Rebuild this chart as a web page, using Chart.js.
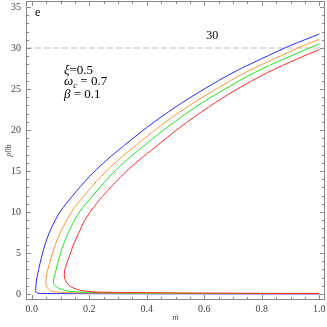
<!DOCTYPE html>
<html><head><meta charset="utf-8">
<script src="https://cdn.jsdelivr.net/npm/chart.js@4/dist/chart.umd.min.js"></script>
<style>html,body{margin:0;padding:0;background:#fff;overflow:hidden}#wrap{width:327px;height:327px}</style>
</head><body><div id="wrap"><canvas id="c" width="327" height="327"></canvas></div>
<script>
// ---- data ----
const blueX = [1.0,0.9,0.8,0.7,0.6,0.5,0.4,0.3,0.25,0.2,0.14,0.1,0.08,0.06,0.046,0.034,0.024,0.018,0.015,0.014,0.014,0.02,0.04,0.1,0.3,0.6,1.0];
const blueY = [31.7,30.3,28.7,27.0,25.0,22.8,20.3,17.5,16.0,14.3,11.9,10.1,8.9,7.4,6.0,4.5,3.0,2.0,1.2,0.6,0.25,0.1,0.07,0.05,0.03,0.02,0.01];
const orangeX = [1.0,0.945,0.845,0.742,0.642,0.54,0.44,0.34,0.29,0.24,0.18,0.14,0.12,0.098,0.082,0.068,0.056,0.051,0.049,0.051,0.058,0.07,0.09,0.15,0.3,0.6,1.0];
const orangeY = [31.05,30.3,28.7,27.0,25.0,22.8,20.3,17.5,16.0,14.3,11.9,10.1,8.9,7.4,6.0,4.5,3.0,2.2,1.5,1.0,0.6,0.35,0.22,0.15,0.1,0.06,0.04];
const greenX = [1.0,0.88,0.775,0.672,0.57,0.47,0.37,0.32,0.27,0.21,0.168,0.147,0.126,0.11,0.096,0.085,0.079,0.076,0.077,0.085,0.095,0.12,0.16,0.25,0.4,0.7,1.0];
const greenY = [30.5,28.7,27.0,25.0,22.8,20.3,17.5,16.0,14.3,11.9,10.1,8.9,7.4,6.0,4.5,3.0,2.2,1.7,1.2,0.9,0.69,0.4,0.25,0.17,0.12,0.07,0.05];
const redX = [1.0,0.925,0.82,0.715,0.615,0.515,0.415,0.362,0.31,0.246,0.205,0.183,0.163,0.145,0.13,0.116,0.113,0.118,0.136,0.155,0.177,0.22,0.3,0.5,0.75,1.0];
const redY = [29.8,28.7,27.0,25.0,22.8,20.3,17.5,16.0,14.3,11.9,10.1,8.9,7.4,6.0,4.5,3.1,2.3,1.6,0.9,0.6,0.4,0.25,0.2,0.13,0.09,0.07];
const refLineX = [-0.02, 1.02];
const refLineY = [30, 30];

const xTicks = [0,0.2,0.4,0.6,0.8,1.0];
const xTickLabels = ['0.0','0.2','0.4','0.6','0.8','1.0'];
const yTicks = [0,5,10,15,20,25,30,35];
const yTickLabels = ['0','5','10','15','20','25','30','35'];
const xMinor = [0.05,0.1,0.15,0.25,0.3,0.35,0.45,0.5,0.55,0.65,0.7,0.75,0.85,0.9,0.95];
const yMinor = [1,2,3,4,6,7,8,9,11,12,13,14,16,17,18,19,21,22,23,24,26,27,28,29,31,32,33,34];

const xTitle = 'ṁ';
const yTitle = 'ρ0b';
const panelLabel = {text:'e', x:0.011, y:34.3};
const lineLabel = {text:'30', x:0.628, y:31.5};
const params = [
  {sym:'ξ', sub:'', rest:'=0.5', x:0.112, y:27.3},
  {sym:'ω', sub:'c', rest:' = 0.7', x:0.112, y:25.85},
  {sym:'β', sub:'', rest:' = 0.1', x:0.112, y:24.3}
];

const pts = (xs, ys) => xs.map((x,i)=>({x:x, y:ys[i]}));
const SERIF = '"Liberation Serif", "DejaVu Serif", serif';

const decor = {
  id:'decor',
  afterDraw(chart){
    const ctx = chart.ctx, a = chart.chartArea;
    const xs = chart.scales.x, ys = chart.scales.y;
    ctx.save();
    ctx.strokeStyle = '#8a8a8a';
    ctx.lineWidth = 1;
    ctx.strokeRect(Math.round(a.left)+0.5, Math.round(a.top)+0.5, Math.round(a.right-a.left)-1, Math.round(a.bottom-a.top)-1);
    const tick = (v, len, isX) => {
      ctx.beginPath();
      if (isX) {
        const p = Math.round(xs.getPixelForValue(v))+0.5;
        ctx.moveTo(p, a.bottom); ctx.lineTo(p, a.bottom-len);
        ctx.moveTo(p, a.top); ctx.lineTo(p, a.top+len);
      } else {
        const p = Math.round(ys.getPixelForValue(v))+0.5;
        ctx.moveTo(a.left, p); ctx.lineTo(a.left+len, p);
        ctx.moveTo(a.right, p); ctx.lineTo(a.right-len, p);
      }
      ctx.stroke();
    };
    xTicks.forEach(v=>tick(v,5,true));
    xMinor.forEach(v=>tick(v,3,true));
    yTicks.forEach(v=>tick(v,5,false));
    yMinor.forEach(v=>tick(v,3,false));

    // axis titles
    ctx.fillStyle = '#444';
    ctx.font = 'italic 9px ' + SERIF;
    ctx.textAlign = 'center'; ctx.textBaseline = 'middle';
    ctx.fillText(xTitle, (a.left+a.right)/2, 318);
    ctx.save();
    ctx.translate(9, (a.top+a.bottom)/2);
    ctx.rotate(-Math.PI/2);
    ctx.font = 'italic 8px ' + SERIF;
    ctx.fillText(yTitle, 0, 0);
    ctx.restore();

    // panel label & line label
    ctx.fillStyle = '#000';
    ctx.font = '12px ' + SERIF;
    ctx.textAlign = 'left';
    ctx.fillText(panelLabel.text, xs.getPixelForValue(panelLabel.x), ys.getPixelForValue(panelLabel.y));
    ctx.textAlign = 'center';
    ctx.font = '12px ' + SERIF;
    ctx.fillText(lineLabel.text, xs.getPixelForValue(lineLabel.x), ys.getPixelForValue(lineLabel.y));

    // parameter block
    ctx.textAlign = 'left';
    params.forEach(p=>{
      let px = xs.getPixelForValue(p.x), py = ys.getPixelForValue(p.y);
      ctx.font = 'italic 13px ' + SERIF;
      ctx.fillText(p.sym, px, py);
      px += ctx.measureText(p.sym).width;
      if (p.sub) {
        ctx.font = 'italic 9px ' + SERIF;
        ctx.fillText(p.sub, px, py+4);
        px += ctx.measureText(p.sub).width;
      }
      ctx.font = '13px ' + SERIF;
      ctx.fillText(p.rest, px, py);
    });
    ctx.restore();
  }
};

new Chart(document.getElementById('c'), {
  type:'scatter',
  data:{
    datasets:[
      {data:pts(refLineX, refLineY), borderColor:'#bdbdbd', borderWidth:1, borderDash:[6,3], showLine:true, pointRadius:0, order:5},
      {data:pts(blueX, blueY), borderColor:'rgb(40,40,255)', borderWidth:1, showLine:true, pointRadius:0, tension:0.3, order:4},
      {data:pts(orangeX, orangeY), borderColor:'rgb(255,150,50)', borderWidth:1, showLine:true, pointRadius:0, tension:0.3, order:3},
      {data:pts(greenX, greenY), borderColor:'rgb(30,230,30)', borderWidth:1, showLine:true, pointRadius:0, tension:0.3, order:2},
      {data:pts(redX, redY), borderColor:'rgb(255,40,40)', borderWidth:1, showLine:true, pointRadius:0, tension:0.3, order:1}
    ]
  },
  options:{
    responsive:false, animation:false, devicePixelRatio:1,
    layout:{padding:{top:1,right:2,left:0,bottom:0}},
    plugins:{legend:{display:false}, tooltip:{enabled:false}},
    scales:{
      x:{type:'linear', min:-0.02, max:1.02,
        afterFit(s){s.height=27; s.paddingLeft=0; s.paddingRight=0;},
        afterBuildTicks(s){s.ticks = xTicks.map(v=>({value:v}));},
        ticks:{callback:(v,i)=>xTickLabels[i], font:{family:SERIF,size:10}, color:'#444', padding:3, maxRotation:0, autoSkip:false},
        grid:{display:false, drawTicks:false}, border:{display:false}},
      y:{type:'linear', min:-0.73, max:35.73,
        afterFit(s){s.width=26; s.paddingTop=0; s.paddingBottom=0;},
        afterBuildTicks(s){s.ticks = yTicks.map(v=>({value:v}));},
        ticks:{callback:(v,i)=>yTickLabels[i], font:{family:SERIF,size:10}, color:'#444', padding:5, autoSkip:false},
        grid:{display:false, drawTicks:false}, border:{display:false}}
    }
  },
  plugins:[decor]
});
</script>
</body></html>
